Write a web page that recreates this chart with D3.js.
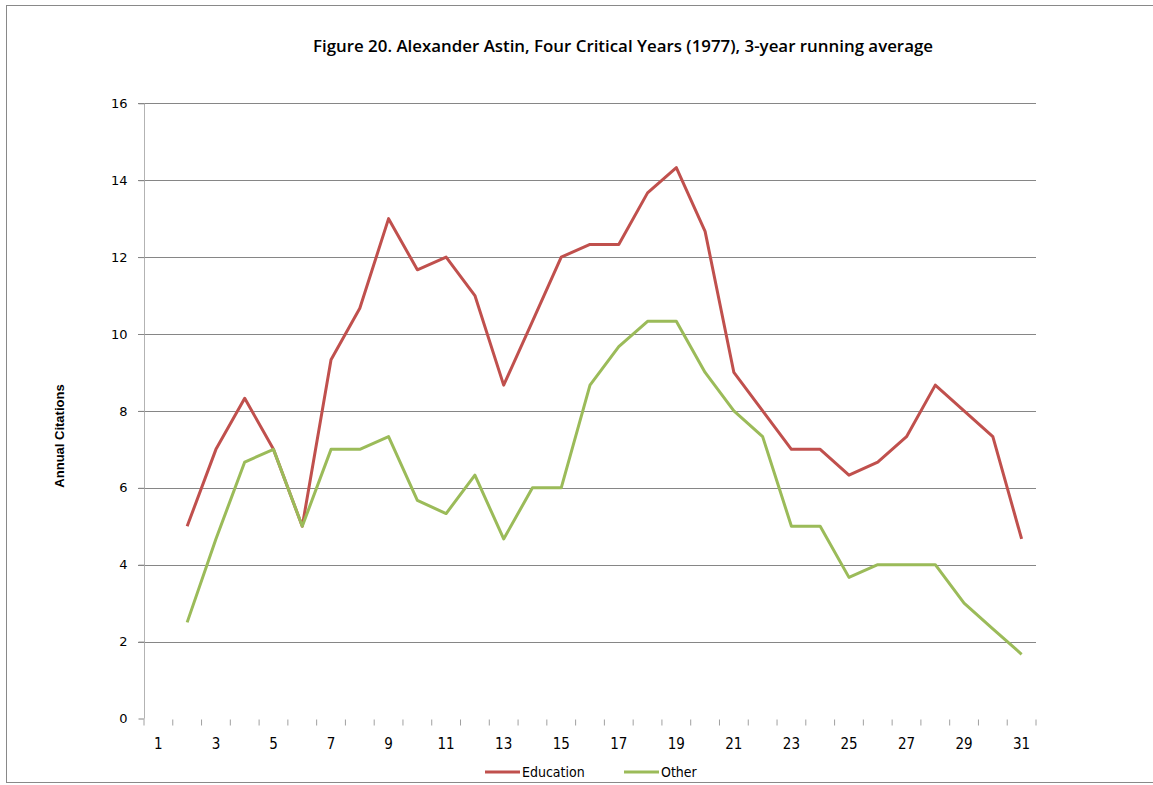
<!DOCTYPE html>
<html>
<head>
<meta charset="utf-8">
<script src="https://cdn.jsdelivr.net/npm/d3@7"></script>
<style>
  body { margin: 0; background: #fff; }
  text { font-family: "Liberation Sans", Arial, sans-serif; }
</style>
</head>
<body>
<div id="vis"></div>
<script>
// categories 1..31, series start at 2
var categories = d3.range(1, 32);
var yTicks = [0, 2, 4, 6, 8, 10, 12, 14, 16];
var xLabels = categories.filter(function(d) { return d % 2 === 1; });

var education = [null, 5, 7, 8.33, 7, 5, 9.33, 10.67, 13, 11.67, 12, 11, 8.67, 10.33, 12,
  12.33, 12.33, 13.67, 14.33, 12.67, 9, 8, 7, 7, 6.33, 6.67, 7.33, 8.67, 8, 7.33, 4.67];
var other = [null, 2.5, 4.67, 6.67, 7, 5, 7, 7, 7.33, 5.67, 5.33, 6.33, 4.67, 6, 6,
  8.67, 9.67, 10.33, 10.33, 9, 8, 7.33, 5, 5, 3.67, 4, 4, 4, 3, 2.33, 1.67];

var series = [
  {name: "Education", values: education, color: "#c0504d"},
  {name: "Other", values: other, color: "#9bbb59"}
];

var W = 1153, H = 785,
    pLeft = 144, pRight = 1036, pTop = 103.3, pBottom = 718.5;

var x = d3.scaleBand().domain(categories).range([pLeft, pRight]).padding(0),
    y = d3.scaleLinear().domain([0, 16]).range([pBottom, pTop]);

var svg = d3.select("#vis").append("svg")
    .attr("width", W)
    .attr("height", H);

// outer frame
svg.append("rect")
    .attr("x", 6.5).attr("y", 5.5)
    .attr("width", W + 10).attr("height", 777)
    .attr("fill", "none")
    .attr("stroke", "#898989")
    .attr("stroke-width", 1);

// title
svg.append("text")
    .attr("x", 623).attr("y", 52)
    .attr("text-anchor", "middle")
    .attr("font-size", 17)
    .attr("font-weight", 600)
    .attr("textLength", 620)
    .attr("lengthAdjust", "spacingAndGlyphs")
    .style("font-family", "'Open Sans', sans-serif")
    .text("Figure 20. Alexander Astin, Four Critical Years (1977), 3-year running  average");

// gridlines
svg.append("g").selectAll("line")
    .data(yTicks.filter(function(d) { return d > 0; }))
  .enter().append("line")
    .attr("x1", pLeft - 6).attr("x2", pRight)
    .attr("y1", function(d) { return Math.round(y(d)) + 0.5; })
    .attr("y2", function(d) { return Math.round(y(d)) + 0.5; })
    .attr("stroke", "#868686");

// y axis
var yAxis = svg.append("g")
    .attr("transform", "translate(" + (pLeft + 0.5) + ",0)")
    .call(d3.axisLeft(y).tickValues(yTicks).tickSize(6).tickPadding(11));
yAxis.select(".domain").attr("stroke", "#b3b3b3").attr("d", "M0," + pTop + "V" + pBottom);
yAxis.selectAll(".tick line").attr("stroke", "#868686");
yAxis.selectAll("text").attr("font-size", 13).attr("fill", "#000")
    .style("font-family", "'DejaVu Sans', sans-serif");

// x axis
var xAxis = svg.append("g")
    .attr("transform", "translate(0," + (Math.round(pBottom) + 0.5) + ")");
xAxis.selectAll("line.tk")
    .data(d3.range(0, 32))
  .enter().append("line")
    .attr("class", "tk")
    .attr("x1", function(i) { return pLeft + i * x.bandwidth(); })
    .attr("x2", function(i) { return pLeft + i * x.bandwidth(); })
    .attr("y1", 0).attr("y2", 6)
    .attr("stroke", "#a0a0a0");
xAxis.selectAll("text")
    .data(xLabels)
  .enter().append("text")
    .attr("x", function(d) { return x(d) + x.bandwidth() / 2; })
    .attr("y", 29)
    .attr("text-anchor", "middle")
    .attr("font-size", 15)
    .style("font-family", "'DejaVu Sans Condensed', 'DejaVu Sans', sans-serif")
    .text(function(d) { return d; });

// y label
svg.append("text")
    .attr("transform", "translate(64,436) rotate(-90)")
    .attr("text-anchor", "middle")
    .attr("font-size", 13)
    .attr("font-weight", "bold")
    .text("Annual Citations");

// lines
var line = d3.line()
    .defined(function(d) { return d != null; })
    .x(function(d, i) { return x(categories[i]) + x.bandwidth() / 2; })
    .y(function(d) { return y(d); });

svg.append("g").selectAll("path")
    .data(series)
  .enter().append("path")
    .attr("d", function(s) { return line(s.values); })
    .attr("fill", "none")
    .attr("stroke", function(s) { return s.color; })
    .attr("stroke-width", 3)
    .attr("stroke-linejoin", "round");

// legend
var legendX = [485, 624];
var lg = svg.append("g").selectAll("g")
    .data(series)
  .enter().append("g")
    .attr("transform", function(s, i) { return "translate(" + legendX[i] + ",772)"; });
lg.append("line")
    .attr("x1", 0).attr("x2", 35)
    .attr("stroke", function(s) { return s.color; })
    .attr("stroke-width", 3);
lg.append("text")
    .attr("x", 37).attr("y", 5)
    .attr("font-size", 14)
    .style("font-family", "'DejaVu Sans Condensed', 'DejaVu Sans', sans-serif")
    .text(function(s) { return s.name; });
</script>
</body>
</html>
